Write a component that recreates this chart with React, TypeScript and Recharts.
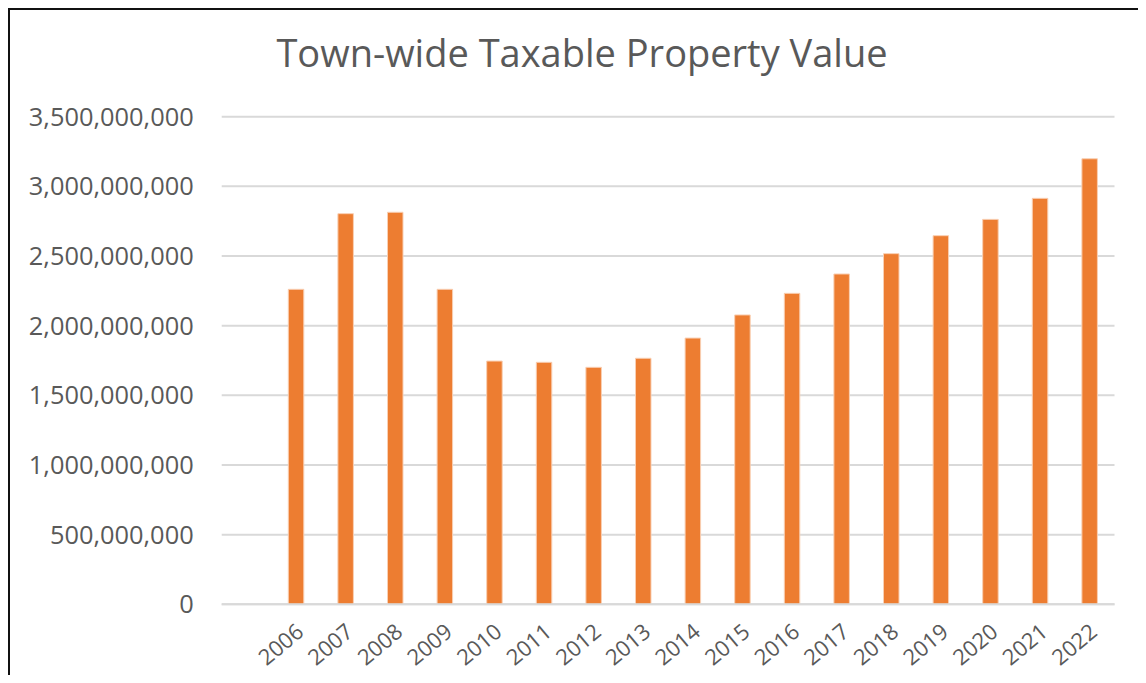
import React from 'react';
import { BarChart, Bar, XAxis, YAxis, CartesianGrid } from 'recharts';

const years = ['2006', '2007', '2008', '2009', '2010', '2011', '2012', '2013', '2014', '2015', '2016', '2017', '2018', '2019', '2020', '2021', '2022'];
const values = [
  2261000000, 2804000000, 2814000000, 2261000000, 1746000000, 1737000000, 1701000000, 1766000000, 1911000000,
  2077000000, 2232000000, 2371000000, 2517000000, 2646000000, 2763000000, 2914000000, 3198000000,
];
const yTicks = [0, 500000000, 1000000000, 1500000000, 2000000000, 2500000000, 3000000000, 3500000000];

const data = years.map((year, i) => ({ year, value: values[i] }));

const FONT = '"Open Sans", sans-serif';
const TEXT = '#595959';

const YearTick = ({ x, y, payload }: any) => (
  <g transform={`translate(${x + 4},${y + 24}) rotate(-40)`}>
    <text x={0} y={0} dy="0.35em" textAnchor="end" fill={TEXT} fontSize={22} fontFamily={FONT}>
      {payload.value}
    </text>
  </g>
);

export default function App() {
  return (
    <div
      style={{
        position: 'relative',
        width: 1128,
        height: 665,
        borderLeft: '2px solid #111',
        borderTop: '2px solid #111',
        background: '#fff',
      }}
    >
      <div
        style={{
          position: 'absolute',
          left: 172,
          width: 800,
          top: 23,
          textAlign: 'center',
          fontFamily: FONT,
          fontSize: 38,
          lineHeight: 1,
          color: TEXT,
        }}
      >
        Town-wide Taxable Property Value
      </div>
      <BarChart width={1128} height={665} data={data} margin={{ top: 106.7, right: 23.5, left: 0, bottom: 0 }}>
        <CartesianGrid vertical={false} stroke="#d9d9d9" strokeWidth={2} />
        <XAxis
          dataKey="year"
          height={70.7}
          padding={{ left: 49.6, right: 0 }}
          axisLine={{ stroke: '#d9d9d9', strokeWidth: 2 }}
          tickLine={false}
          tickSize={0}
          tickMargin={0}
          interval={0}
          tick={<YearTick />}
        />
        <YAxis
          width={211.7}
          domain={[0, 3500000000]}
          ticks={yTicks}
          axisLine={false}
          tickLine={false}
          tickSize={0}
          tickMargin={28}
          tickFormatter={(v: number) => v.toLocaleString('en-US')}
          tick={{ fill: TEXT, fontSize: 25.4, fontFamily: FONT }}
        />
        <Bar dataKey="value" fill="#ED7D31" stroke="#f9cfb3" strokeWidth={1} barSize={15.5} isAnimationActive={false} />
      </BarChart>
    </div>
  );
}
